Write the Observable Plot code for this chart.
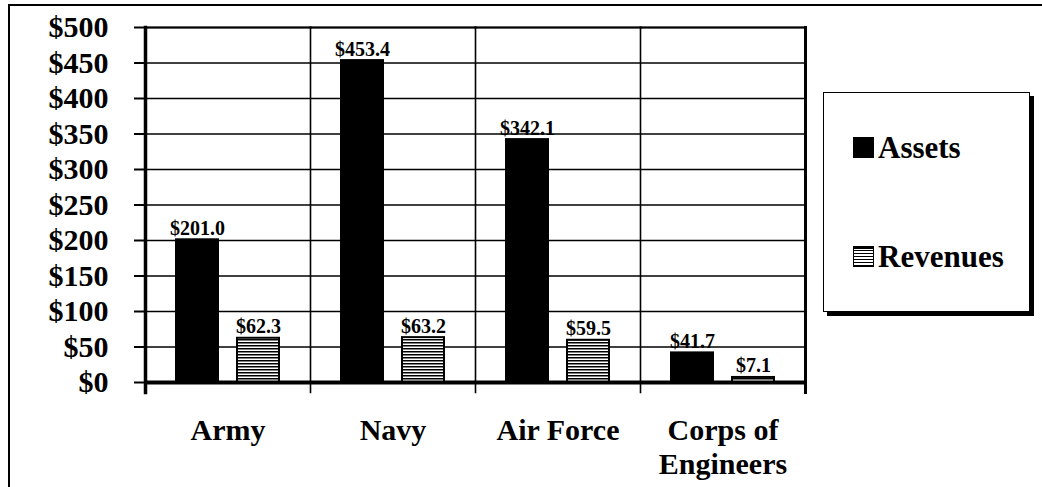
<!DOCTYPE html>
<html><head><meta charset="utf-8">
<script src="https://cdn.jsdelivr.net/npm/d3@7"></script>
<script src="https://cdn.jsdelivr.net/npm/@observablehq/plot@0.6"></script>
<style>
body{margin:0;background:#fff;}
#wrap{position:relative;width:1042px;height:487px;overflow:hidden;background:#fff;font-family:'Liberation Serif',serif;font-weight:bold;}
#chart{position:absolute;left:0;top:0;}
#border{position:absolute;left:8px;top:4px;right:-10px;bottom:-10px;border-left:2px solid #000;border-top:2px solid #000;pointer-events:none;}
#legend{position:absolute;left:823px;top:92px;width:205px;height:218px;border:1.5px solid #000;box-shadow:4px 4px 0 #000;background:#fff;}
.item{position:absolute;left:29px;display:flex;align-items:center;font-size:31px;line-height:1;}
.sw{width:21px;height:21px;margin-right:4px;box-sizing:border-box;}
.sw.a{background:#000;}
.sw.r{border:1.5px solid #000;background:repeating-linear-gradient(to bottom,#000 0,#000 1.5px,#fff 1.5px,#fff 3px);}
</style></head>
<body>
<div id="wrap">
  <div id="chart"></div>
  <div id="border"></div>
  <div id="legend"></div>
</div>
<script>
const categories = ["Army", "Navy", "Air Force", "Corps of Engineers"];
const categoryLabels = ["Army", "Navy", "Air Force", "Corps of\nEngineers"];
const series = ["Assets", "Revenues"];
const assets = [201.0, 453.4, 342.1, 41.7];
const revenues = [62.3, 63.2, 59.5, 7.1];
const yTicks = [0, 50, 100, 150, 200, 250, 300, 350, 400, 450, 500];

const data = [];
categories.forEach((c, i) => {
  data.push({category: c, series: series[0], value: assets[i]});
  data.push({category: c, series: series[1], value: revenues[i]});
});

const font = {fontFamily: "'Liberation Serif', serif", fontWeight: "bold"};

const svg = Plot.plot({
  width: 1042,
  height: 487,
  marginLeft: 145,
  marginRight: 237,
  marginTop: 27,
  marginBottom: 105,
  style: {background: "transparent", color: "#000", fontFamily: "'Liberation Serif', serif"},
  fx: {domain: categories, padding: 0},
  x: {domain: series, paddingInner: 0.306, paddingOuter: 0.484, axis: null},
  y: {domain: [0, 500], axis: null},
  color: {domain: series, range: ["#000", "url(#stripes)"]},
  marks: [
    Plot.gridY(yTicks, {stroke: "#000", strokeOpacity: 1, strokeWidth: 1.6}),
    Plot.barY(data, {fx: "category", x: "series", y: "value", fill: "series", stroke: "#000", strokeWidth: 2}),
    Plot.text(data, {fx: "category", x: "series", y: "value", text: d => "$" + d.value.toFixed(1),
      lineAnchor: "bottom", dy: -5, fontSize: 20, ...font, fill: "#000"}),
    Plot.frame({anchor: "left", strokeWidth: 1.6, insetBottom: -10}),
    Plot.frame({anchor: "top", strokeWidth: 2.2}),
    Plot.frame({anchor: "left", facetAnchor: "left", strokeWidth: 3.5, insetBottom: -10}),
    Plot.frame({anchor: "right", facetAnchor: "right", strokeWidth: 3, insetBottom: -10}),
    Plot.ruleY([0], {stroke: "#000", strokeWidth: 4}),
    Plot.axisY(yTicks, {anchor: "left", tickSize: 11, tickPadding: 26, strokeWidth: 2,
      tickFormat: d => "$" + d, fontSize: 30, ...font, label: null}),
    Plot.axisFx({anchor: "bottom", tickSize: 0, tickPadding: 33, fontSize: 30, ...font,
      lineHeight: 1.15, tickFormat: d => categoryLabels[categories.indexOf(d)], label: null})
  ]
});

const defs = d3.select(svg).insert("defs", ":first-child");
const pat = defs.append("pattern").attr("id", "stripes")
  .attr("patternUnits", "userSpaceOnUse").attr("width", 4).attr("height", 3);
pat.append("rect").attr("width", 4).attr("height", 3).attr("fill", "#fff");
pat.append("rect").attr("width", 4).attr("height", 1.5).attr("fill", "#000");

document.getElementById("chart").appendChild(svg);

const legend = d3.select("#legend");
const tops = [39, 148];
series.forEach((s, i) => {
  const it = legend.append("div").attr("class", "item").style("top", tops[i] + "px");
  it.append("div").attr("class", "sw " + (i === 0 ? "a" : "r"));
  it.append("span").text(s);
});
</script>
</body></html>
